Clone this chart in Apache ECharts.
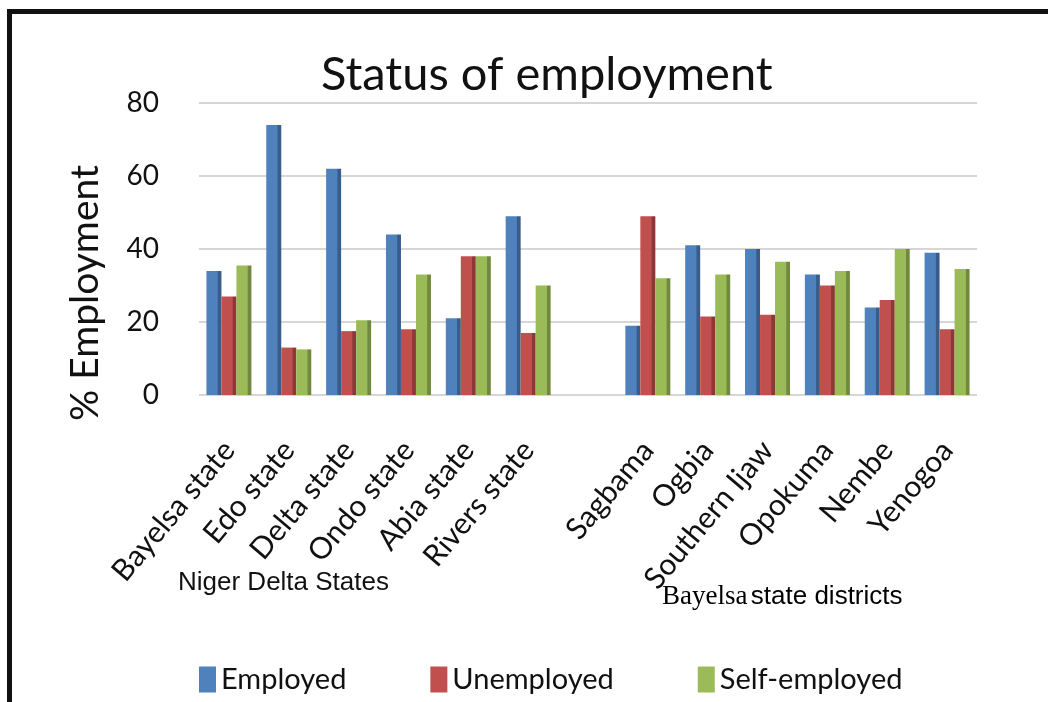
<!DOCTYPE html>
<html>
<head>
<meta charset="utf-8">
<script src="https://cdn.jsdelivr.net/npm/echarts@6/dist/echarts.min.js"></script>
<style>
	body { margin: 0; background: #fff; }
	#chart { width: 1048px; height: 702px; }
	.frame { position: absolute; left: 7px; top: 9px; width: 1100px; height: 800px;
		border-top: 5px solid #111; border-left: 5px solid #111; pointer-events: none; }
</style>
</head>
<body>
<div id="chart"></div>
<div class="frame"></div>
<script>
	var states = ['Bayelsa state', 'Edo state', 'Delta state', 'Ondo state', 'Abia state', 'Rivers state']
	var districts = ['Sagbama', 'Ogbia', 'Southern Ijaw', 'Opokuma', 'Nembe', 'Yenogoa']

	var stateEmployed = [34, 74, 62, 44, 21, 49]
	var stateUnemployed = [27, 13, 17.5, 18, 38, 17]
	var stateSelf = [35.5, 12.5, 20.5, 33, 38, 30]

	var districtEmployed = [19, 41, 40, 33, 24, 39]
	var districtUnemployed = [49, 21.5, 22, 30, 26, 18]
	var districtSelf = [32, 33, 36.5, 34, 40, 34.5]

	var yTicks = [0, 20, 40, 60, 80]

	// one empty slot between the two groups
	var categories = states.concat([''], districts)
	function join(a, b) { return a.concat(['-'], b) }

	var colors = {
		'Employed': ['#4F81BD', '#385D8A'],
		'Unemployed': ['#C0504D', '#8C3836'],
		'Self-employed': ['#9BBB59', '#71893F']
	}

	function shade(name) {
		var c = colors[name]
		return new echarts.graphic.LinearGradient(0, 0, 1, 0, [
			{offset: 0, color: c[0]},
			{offset: 0.72, color: c[0]},
			{offset: 0.78, color: c[1]},
			{offset: 1, color: c[1]}
		])
	}

	function barSeries(name, data) {
		return {
			name: name, type: 'bar', barWidth: 15, barGap: '0%',
			data: data,
			itemStyle: { color: shade(name) }
		}
	}

	var font = 'Lato, "Open Sans", sans-serif'
	var chart = echarts.init(document.getElementById('chart'))

	chart.setOption({
		animation: false,
		title: {
			text: 'Status of employment',
			left: 316,
			top: 46,
			textStyle: { fontSize: 47, fontWeight: 'normal', color: '#111', fontFamily: font }
		},
		legend: {
			top: 660,
			left: 194,
			icon: 'rect',
			itemWidth: 17,
			itemHeight: 26,
			itemGap: 84,
			textStyle: { fontSize: 29, color: '#111', fontFamily: font },
			data: Object.keys(colors).map(function (k) {
				return { name: k, itemStyle: { color: colors[k][0] } }
			})
		},
		grid: { left: 199, right: 71, top: 103, bottom: 307, containLabel: false },
		xAxis: {
			type: 'category',
			data: categories,
			axisLine: { show: false },
			axisTick: { show: false },
			axisLabel: { interval: 0, rotate: 50, margin: 50, fontSize: 30, color: '#111', fontFamily: font }
		},
		yAxis: {
			type: 'value',
			min: yTicks[0],
			max: yTicks[yTicks.length - 1],
			interval: 20,
			axisLine: { show: false },
			axisTick: { show: false },
			axisLabel: { fontSize: 28, color: '#111', margin: 40, fontFamily: font },
			splitLine: { lineStyle: { color: '#d6d6d6', width: 2 } }
		},
		graphic: [
			{
				type: 'text', left: 66, top: 165,
				rotation: Math.PI / 2,
				style: { text: '% Employment', font: '39px ' + font, fill: '#111' }
			},
			{
				type: 'text', left: 178, top: 570,
				style: { text: 'Niger Delta States', font: '26px "Liberation Sans", Arial, sans-serif', fill: '#111' }
			},
			{
				type: 'text', left: 662, top: 583,
				style: {
					text: '{a|Bayelsa} {b|state districts}',
					rich: {
						a: { fontFamily: '"Liberation Serif", serif', fontSize: 27, color: '#111' },
						b: { fontFamily: '"Liberation Sans", Arial, sans-serif', fontSize: 26, color: '#111' }
					}
				}
			}
		],
		series: [
			barSeries('Employed', join(stateEmployed, districtEmployed)),
			barSeries('Unemployed', join(stateUnemployed, districtUnemployed)),
			barSeries('Self-employed', join(stateSelf, districtSelf))
		]
	})
</script>
</body>
</html>
